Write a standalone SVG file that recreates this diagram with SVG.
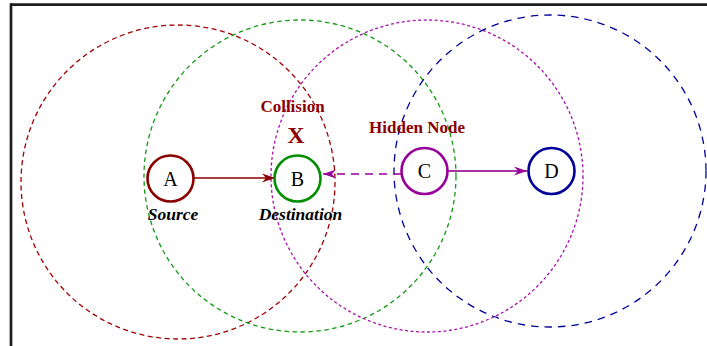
<svg xmlns="http://www.w3.org/2000/svg" width="707" height="346" viewBox="0 0 707 346">
<style>
.range{fill:none;stroke-width:1.3}
.node{fill:#fff;stroke-width:2.6}
.lbl{font-family:"Liberation Serif","Times New Roman",serif;font-size:20px;text-anchor:middle;fill:#000}
.cap{font-family:"Liberation Serif","Times New Roman",serif;font-size:17.5px;font-weight:bold;font-style:italic;text-anchor:middle;fill:#000}
.note{font-family:"Liberation Serif","Times New Roman",serif;font-size:17px;font-weight:bold;text-anchor:middle;fill:#8b0000}
</style>
<defs>
<marker id="ahRed" markerWidth="14" markerHeight="10" refX="13" refY="5" orient="auto" markerUnits="userSpaceOnUse">
<path d="M13,5 L0,0.5 L4,5 L0,9.5 Z" fill="#8b0000"/>
</marker>
<marker id="ahPur" markerWidth="14" markerHeight="10" refX="13" refY="5" orient="auto" markerUnits="userSpaceOnUse">
<path d="M13,5 L0,0.5 L4,5 L0,9.5 Z" fill="#990099"/>
</marker>
</defs>
<rect width="707" height="346" fill="#fff"/>
<g id="frame" stroke="#1e1e1e" stroke-width="2.7" fill="none">
<line x1="10" y1="4.7" x2="707" y2="4.7"/>
<line x1="11" y1="3.4" x2="11" y2="346"/>
</g>
<g id="ranges">
<circle class="range" cx="178" cy="182" r="157" stroke="#a00000" stroke-dasharray="5 3.5"/>
<circle class="range" cx="300" cy="176" r="156" stroke="#119911" stroke-dasharray="4.5 3.5"/>
<circle class="range" cx="427" cy="176" r="156" stroke="#aa11aa" stroke-dasharray="3 2.5"/>
<circle class="range" cx="550" cy="171" r="156" stroke="#000099" stroke-dasharray="7.5 6"/>
</g>
<g id="connectors">
<line x1="194" y1="178" x2="275" y2="178" stroke="#8b0000" stroke-width="1.6" marker-end="url(#ahRed)"/>
<line x1="401" y1="174" x2="323" y2="174" stroke="#990099" stroke-width="1.5" stroke-dasharray="8 6" marker-end="url(#ahPur)"/>
<line x1="448" y1="171" x2="527" y2="171" stroke="#a633a6" stroke-width="1.8" marker-end="url(#ahPur)"/>
</g>
<g id="nodeA">
<circle class="node" cx="170.5" cy="178.5" r="23" stroke="#8b0000"/>
<text class="lbl" x="170.5" y="185.5">A</text>
<text class="cap" x="173" y="220">Source</text>
</g>
<g id="nodeB">
<circle class="node" cx="297.5" cy="178.5" r="23" stroke="#008f00"/>
<text class="lbl" x="297.5" y="185.5">B</text>
<text class="cap" x="300.5" y="220">Destination</text>
</g>
<g id="nodeC">
<circle class="node" cx="424.5" cy="171" r="23" stroke="#990099"/>
<text class="lbl" x="424.5" y="178">C</text>
</g>
<g id="nodeD">
<circle class="node" cx="551.5" cy="171" r="23" stroke="#000099"/>
<text class="lbl" x="551.5" y="178">D</text>
</g>
<g id="labels">
<text class="note" x="292.5" y="112">Collision</text>
<text class="note" x="296" y="143" style="font-size:24px">X</text>
<text class="note" x="417" y="133">Hidden Node</text>
</g>
</svg>
